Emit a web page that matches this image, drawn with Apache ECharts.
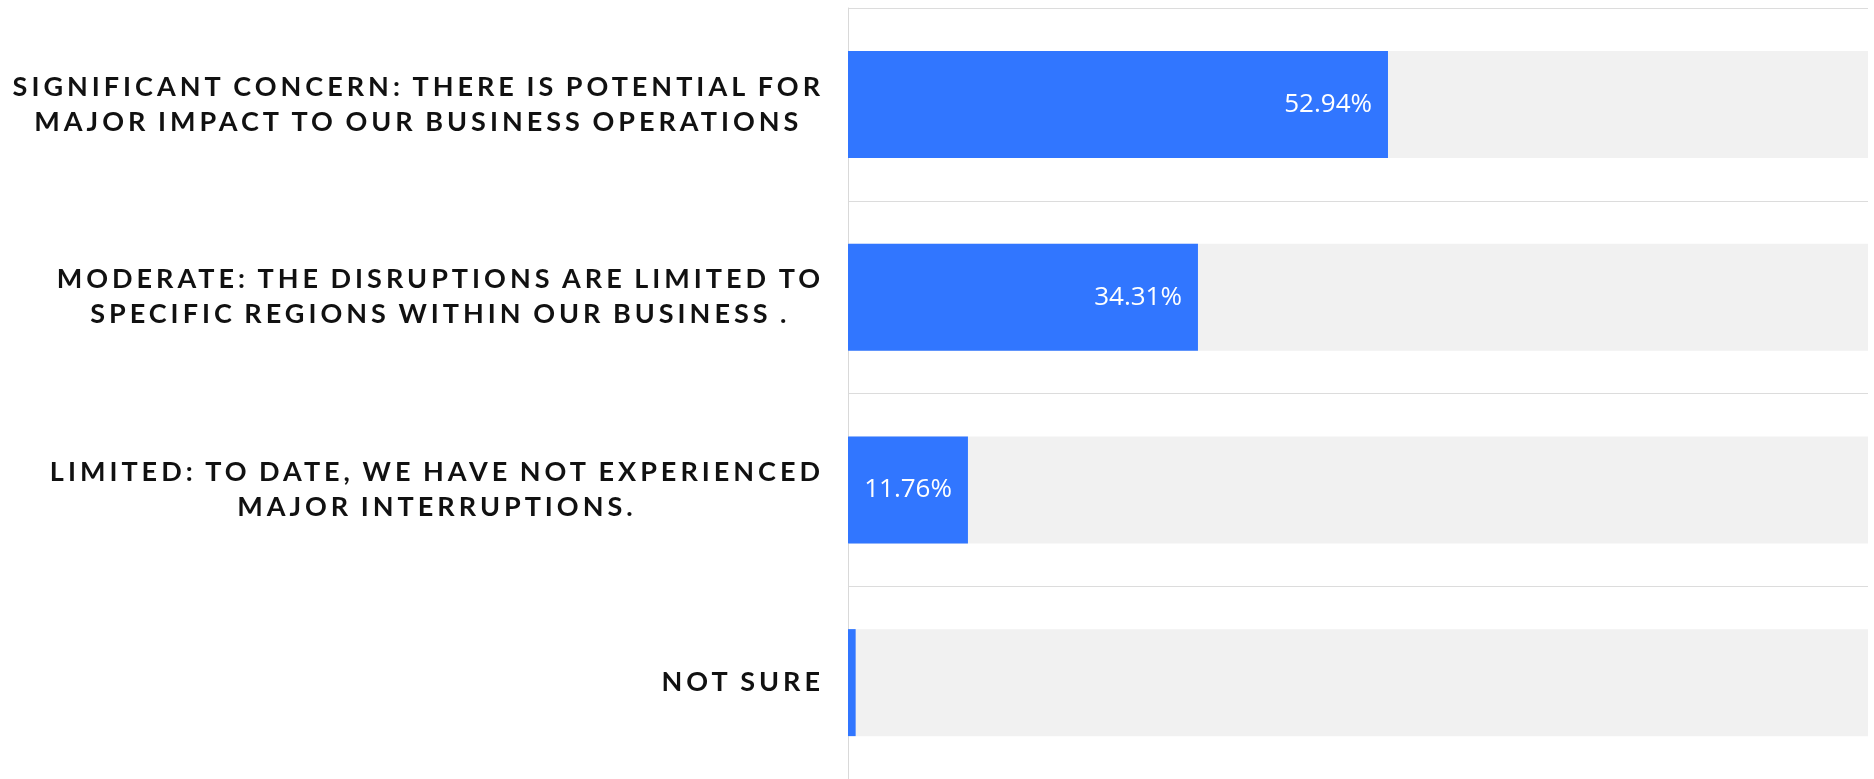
<!DOCTYPE html>
<html>
<head>
<meta charset="utf-8">
<script src="https://cdn.jsdelivr.net/npm/echarts@6/dist/echarts.min.js"></script>
<style>
  html, body { margin: 0; padding: 0; background: #fff; }
  #main { width: 1874px; height: 779px; }
</style>
</head>
<body>
<div id="main"></div>
<script>
// answers, top to bottom
const categories = [
  "SIGNIFICANT CONCERN: THERE IS POTENTIAL FOR\nMAJOR IMPACT TO OUR BUSINESS OPERATIONS",
  "MODERATE: THE DISRUPTIONS ARE LIMITED TO\nSPECIFIC REGIONS WITHIN OUR BUSINESS .",
  "LIMITED: TO DATE, WE HAVE NOT EXPERIENCED\nMAJOR INTERRUPTIONS.",
  "NOT SURE"
];
const shares = [52.94, 34.31, 11.76, 0.75];

// letter spacing for the category labels (canvas has no option for it in echarts)
const fontDesc = Object.getOwnPropertyDescriptor(CanvasRenderingContext2D.prototype, "font");
Object.defineProperty(CanvasRenderingContext2D.prototype, "font", {
  get() { return fontDesc.get.call(this); },
  set(v) {
    fontDesc.set.call(this, v);
    let spaced = /Lato/.test(v);
    if ("letterSpacing" in this) this.letterSpacing = spaced ? "4px" : "0px";
    if ("wordSpacing" in this) this.wordSpacing = spaced ? "-2px" : "0px";
  }
});

let myChart = echarts.init(document.getElementById("main"));
myChart.setOption({
  animation: false,
  grid: { left: 848, right: 6, top: 8, bottom: 0, containLabel: false, outerBoundsMode: "none" },
  xAxis: {
    type: "value",
    min: 0,
    max: 100,
    axisLine: { show: false },
    axisTick: { show: false },
    axisLabel: { show: false },
    splitLine: { show: false }
  },
  yAxis: {
    type: "category",
    inverse: true,
    data: categories,
    axisLine: { show: true, lineStyle: { color: "#d9d9d9", width: 1 } },
    axisTick: { show: false },
    splitLine: { show: true, lineStyle: { color: "#dcdcdc", width: 1 } },
    axisLabel: {
      margin: 24,
      align: "right",
      formatter: function (v) {
        return v.split("\n").map(function (l) { return "{c|" + l + "}"; }).join("\n");
      },
      rich: {
        c: {
          align: "center",
          fontFamily: "Lato",
          fontWeight: "bold",
          fontSize: 27,
          lineHeight: 35,
          color: "#111"
        }
      }
    }
  },
  series: [
    {
      type: "bar",
      data: shares,
      barWidth: 107,
      itemStyle: { color: "#3176ff" },
      showBackground: true,
      backgroundStyle: { color: "#f1f1f1" },
      label: {
        show: true,
        position: "insideRight",
        distance: 16,
        color: "#fff",
        fontFamily: "Open Sans",
        fontSize: 26,
        formatter: function (p) {
          return p.value < 5 ? "" : p.value.toFixed(2) + "%";
        }
      }
    }
  ]
});
</script>
</body>
</html>
